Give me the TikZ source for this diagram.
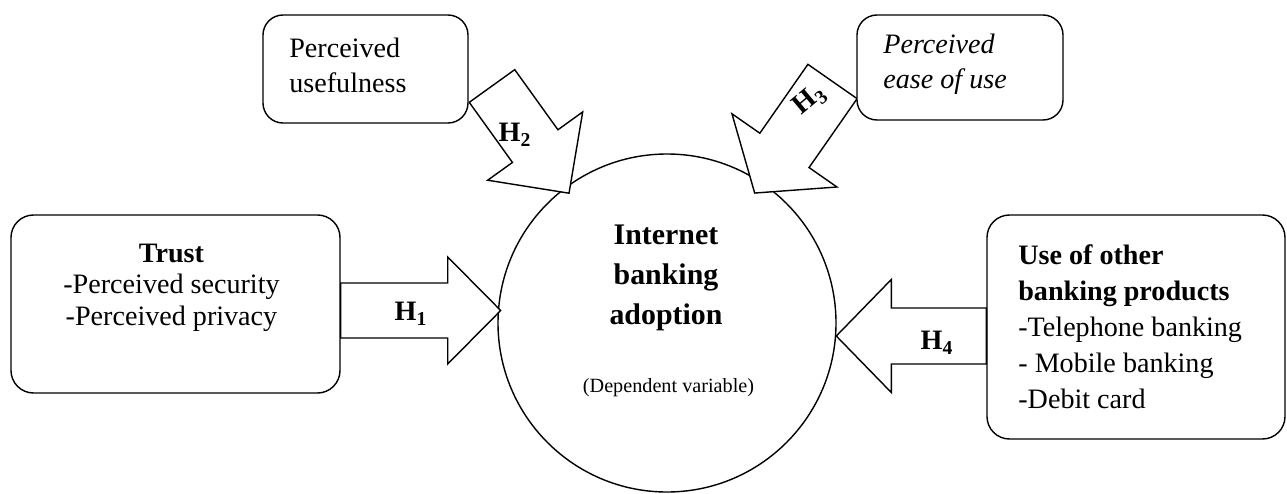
\documentclass[tikz,border=0pt]{standalone}
\usepackage{fontspec}
\setmainfont{Liberation Serif}
\usepackage{tikz}

\tikzset{
	box/.style={draw, line width=0.8pt, rounded corners=0.45cm, fill=white},
	hyplabel/.style={font=\fontsize{16pt}{18pt}\selectfont\bfseries},
	pics/hyparrow/.style args={#1/#2/#3/#4}{code={
		\draw[line width=0.8pt, fill=white] (0,-#2) -- (#1,-#2) -- (#1,-#3) -- (#1+#4,0) -- (#1,#3) -- (#1,#2) -- (0,#2) -- cycle;
	}}
}

\begin{document}
\begin{tikzpicture}
			\useasboundingbox (0,0) rectangle (25.74,9.86);
			\pgfmathsetmacro{\r}{3.38}
			\node[draw, line width=0.8pt, circle, minimum size=2*\r cm] (ib) at (13.34,3.40) {};
			\node[align=center, font=\fontsize{17pt}{22.8pt}\selectfont\bfseries] (ibtxt) at (13.32,4.31) {Internet\\banking\\adoption};
			\node[font=\fontsize{11.5pt}{13pt}\selectfont] (dep) at (13.37,2.10) {(Dependent variable)};
			% independent variables
			\node[box, minimum width=6.58cm, minimum height=3.56cm] (trust) at (3.51,3.78) {};
			\node[align=center, font=\fontsize{16pt}{17.9pt}\selectfont] (trusttxt) at (3.43,4.11) {\textbf{Trust}\\-Perceived security\\-Perceived privacy};
			\node[box, minimum width=5.96cm, minimum height=4.48cm] (other) at (22.72,3.32) {};
			\node[align=left, anchor=west, inner sep=0pt, font=\fontsize{16pt}{20.5pt}\selectfont] (othertxt) at (20.36,3.33) {\textbf{Use of other}\\\textbf{banking products}\\-Telephone banking\\- Mobile banking\\-Debit card};
			\coordinate (h2start) at (9.84,8.14);
			\coordinate (h3start) at (16.65,8.23);
			\pic[rotate=-54.3] at (h2start) {hyparrow=1.48/0.56/1.17/1.16};
			\pic[rotate=235.1] at (h3start) {hyparrow=1.68/0.60/1.28/1.04};
			\node[box, rounded corners=0.4cm, minimum width=4.10cm, minimum height=2.16cm] (pu) at (7.31,8.48) {};
			\node[align=left, anchor=west, inner sep=0pt, font=\fontsize{16pt}{19.9pt}\selectfont] (putxt) at (5.78,8.56) {Perceived\\usefulness};
			\node[box, rounded corners=0.4cm, minimum width=4.12cm, minimum height=2.10cm] (peou) at (19.20,8.51) {};
			\node[align=left, anchor=west, inner sep=0pt, font=\fontsize{16pt}{19.9pt}\selectfont\itshape] (peoutxt) at (17.66,8.58) {Perceived\\ease of use};
			% hypotheses
			\coordinate (h1start) at (trust.east |- 0,3.65);
			\coordinate (h4start) at (other.west |- 0,3.14);
			\pic at (h1start) {hyparrow=2.14/0.55/1.07/1.06};
			\pic[rotate=180] at (h4start) {hyparrow=1.90/0.56/1.13/1.10};
			\node[hyplabel] (h1) at (8.22,3.58) {H$_\mathbf{1}$};
			\node[hyplabel] (h2) at (10.30,7.16) {H$_\mathbf{2}$};
			\node[hyplabel, rotate=40] (h3) at (16.20,7.86) {H$_\mathbf{3}$};
			\node[hyplabel] (h4) at (18.74,3.00) {H$_\mathbf{4}$};
		\end{tikzpicture}
\end{document}
